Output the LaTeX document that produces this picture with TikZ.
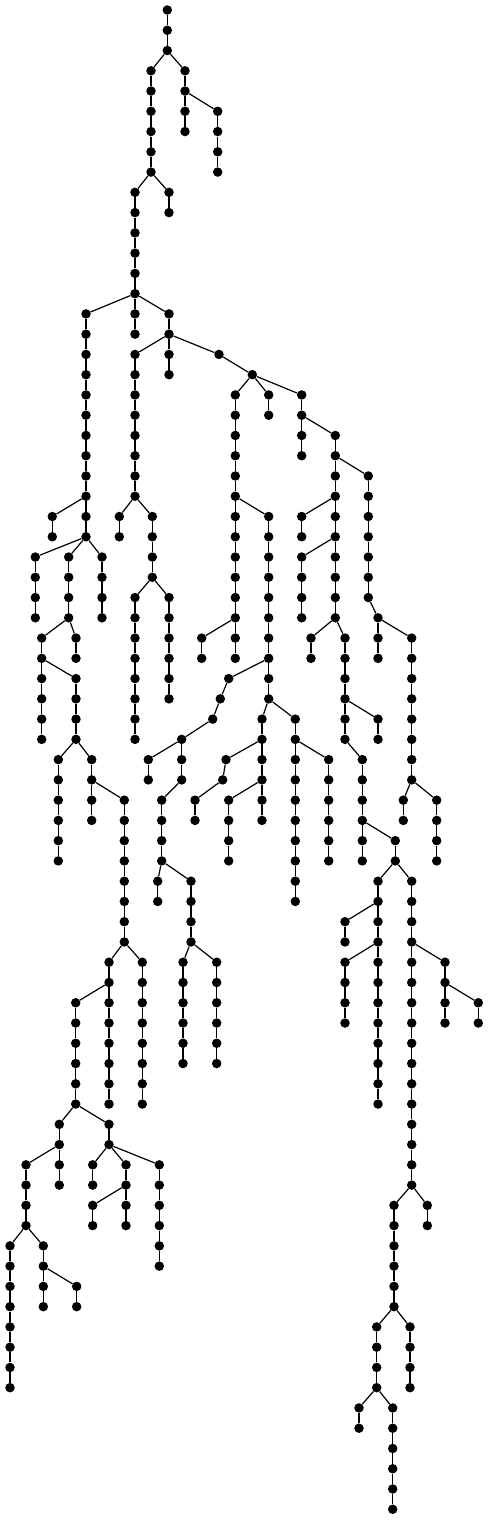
\documentclass[tikz,border=0pt]{standalone}
\tikzset{
  dot/.style={circle,fill=black,draw=none,inner sep=0pt,minimum size=9.5pt},
  edge/.style={line width=1.2pt,black}
}
\newcommand\chain[5]{%
  \foreach \lv in {#3,...,#4}{\node[dot] (#1-\lv) at (#2,{10+20.26*\lv}) {};}
  \ifnum#3<#4
    \pgfmathtruncatemacro\cstart{#3+1}%
    \foreach \lv in {\cstart,...,#4}{\pgfmathtruncatemacro\lp{\lv-1}\draw[edge] (#1-\lp) -- (#1-\lv);}
  \fi
  \if\relax\detokenize{#5}\relax\else\draw[edge] (#5) -- (#1-#3);\fi
}
\begin{document}
\begin{tikzpicture}[x=1pt,y=-1pt]
\useasboundingbox (0,0) rectangle (488,1520);
\chain{A}{167.3}{0}{2}{}
\chain{B}{151}{3}{8}{A-2}
\chain{C}{185}{3}{6}{A-2}
\chain{D}{217.7}{5}{8}{C-4}
\chain{E}{135}{9}{14}{B-8}
\chain{F}{169}{9}{10}{B-8}
\chain{G}{86}{15}{26}{E-14}
\chain{H}{135}{15}{16}{E-14}
\chain{I}{169}{15}{16}{E-14}
\chain{J}{135}{17}{24}{I-16}
\chain{K}{169}{17}{18}{I-16}
\chain{M}{219}{17}{17}{I-16}
\chain{N}{252.3}{18}{18}{M-17}
\chain{O}{235.3}{19}{32}{N-18}
\chain{P}{268.7}{19}{20}{N-18}
\chain{Q}{301.7}{19}{22}{N-18}
\chain{R}{335.3}{21}{30}{Q-20}
\chain{S}{368.3}{23}{29}{R-22}
\chain{T}{378}{30}{32}{S-29}
\chain{U}{411.7}{31}{38}{T-30}
\chain{V}{52.3}{25}{26}{G-24}
\chain{W}{35.3}{27}{30}{G-26}
\chain{X}{68.7}{27}{30}{G-26}
\chain{Y}{102}{27}{30}{G-26}
\chain{Z}{41.7}{31}{36}{X-30}
\chain{AA}{76}{31}{32}{X-30}
\chain{AB}{76}{33}{36}{Z-32}
\chain{AC}{58.3}{37}{42}{AB-36}
\chain{AD}{91.7}{37}{40}{AB-36}
\chain{AE}{124.3}{39}{46}{AD-38}
\chain{AF}{109}{47}{54}{AE-46}
\chain{AG}{142.3}{47}{54}{AE-46}
\chain{AH}{75.7}{49}{54}{AF-48}
\chain{AI}{59.3}{55}{58}{AH-54}
\chain{AJ}{109}{55}{56}{AH-54}
\chain{AK}{26}{57}{60}{AI-56}
\chain{AL}{10}{61}{68}{AK-60}
\chain{AM}{43.3}{61}{64}{AK-60}
\chain{AN}{76.7}{63}{64}{AM-62}
\chain{AO}{92.7}{57}{58}{AJ-56}
\chain{AP}{126}{57}{60}{AJ-56}
\chain{AQ}{159.3}{57}{62}{AJ-56}
\chain{AR}{92.7}{59}{60}{AP-58}
\chain{AS}{119.3}{25}{26}{J-24}
\chain{AT}{152.3}{25}{28}{J-24}
\chain{AU}{135}{29}{36}{AT-28}
\chain{AV}{169}{29}{34}{AT-28}
\chain{AW}{268.7}{25}{34}{O-24}
\chain{AX}{201.7}{31}{32}{O-30}
\chain{AZ}{228.7}{33}{33}{AW-32}
\chain{BA}{220.3}{34}{34}{AZ-33}
\chain{BB}{212.7}{35}{35}{BA-34}
\chain{BC}{181.7}{36}{38}{BB-35}
\chain{BD}{148.3}{37}{38}{BC-36}
\chain{BE}{161.7}{39}{42}{BC-38}
\chain{BF}{157.7}{43}{44}{BE-42}
\chain{BG}{191}{43}{46}{BE-42}
\chain{BH}{183}{47}{52}{BG-46}
\chain{BI}{216.7}{47}{52}{BG-46}
\chain{BJ}{262}{35}{40}{AW-34}
\chain{BK}{295.3}{35}{44}{AW-34}
\chain{BL}{226}{37}{37}{BJ-36}
\chain{BN}{222.7}{38}{38}{BL-37}
\chain{BO}{195}{39}{40}{BN-38}
\chain{BM}{228.7}{39}{42}{BJ-38}
\chain{BP}{328.7}{37}{42}{BK-36}
\chain{BQ}{301.7}{25}{26}{R-24}
\chain{BR}{301.7}{27}{30}{R-26}
\chain{BS}{311}{31}{32}{R-30}
\chain{BT}{345}{31}{36}{R-30}
\chain{BU}{378}{35}{36}{BT-34}
\chain{BV}{362.3}{37}{42}{BT-36}
\chain{BW}{395.3}{41}{42}{BV-40}
\chain{BX}{378}{43}{54}{BW-42}
\chain{BY}{411.7}{43}{58}{BW-42}
\chain{BZ}{345}{45}{46}{BX-44}
\chain{CA}{345}{47}{50}{BX-46}
\chain{CB}{445}{47}{50}{BY-46}
\chain{CF}{478.3}{49}{50}{CB-48}
\chain{CC}{394}{59}{64}{BY-58}
\chain{CD}{427.3}{59}{60}{BY-58}
\chain{CG}{376.7}{65}{68}{CC-64}
\chain{CH}{410}{65}{68}{CC-64}
\chain{CI}{359}{69}{70}{CG-68}
\chain{CJ}{392.7}{69}{74}{CG-68}
\chain{CK}{403.3}{39}{40}{U-38}
\chain{CL}{436.7}{39}{42}{U-38}
\end{tikzpicture}
\end{document}
